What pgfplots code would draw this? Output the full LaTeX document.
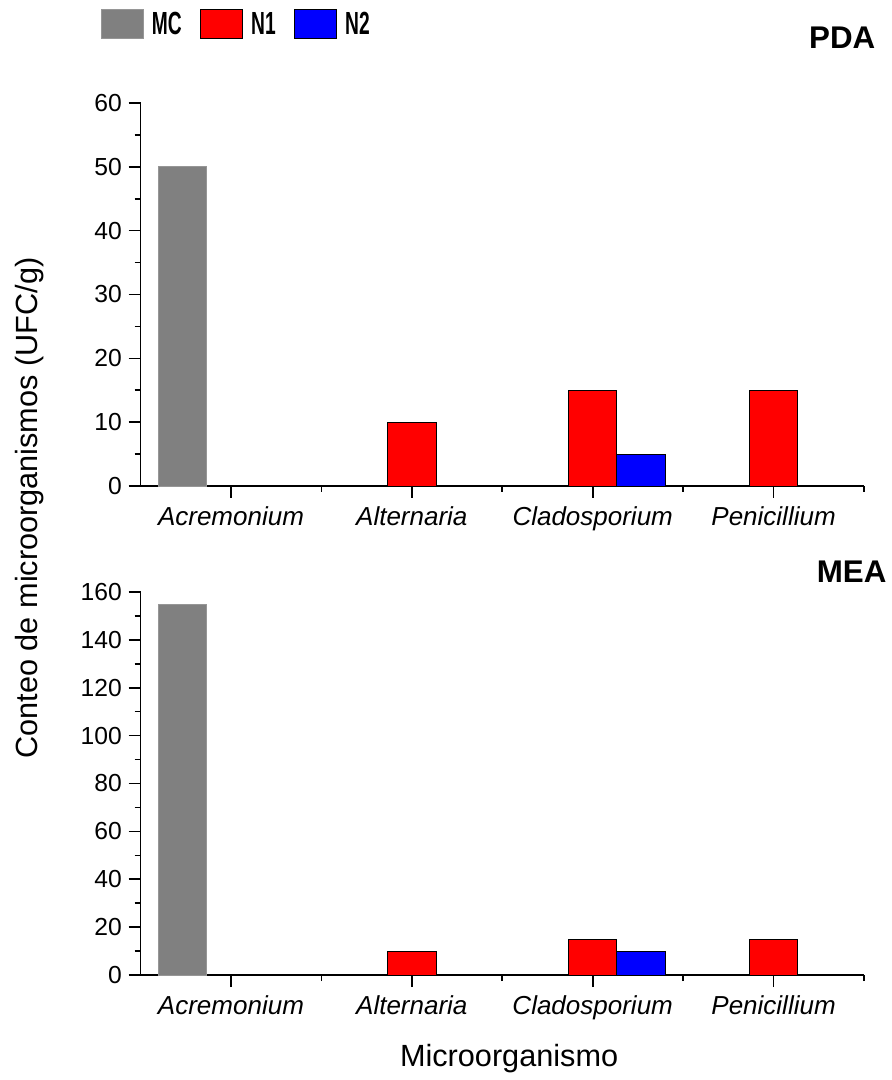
\documentclass[border=0pt]{standalone}
\usepackage{fontspec}
\setmainfont{Liberation Sans}
\usepackage{pgfplots}
\pgfplotsset{compat=1.18}
\definecolor{mcgray}{RGB}{128,128,128}
\definecolor{mcedge}{RGB}{150,150,150}
\newcommand{\lgtext}[1]{\scalebox{0.6}[1]{\bfseries\fontsize{24}{28}\selectfont #1}}
\begin{document}
\begin{tikzpicture}
\pgfplotsset{
  myaxis/.style={
    scale only axis, width=542.6pt, height=287.25pt,
    xmin=-0.5, xmax=3.5, ymin=0,
    axis x line*=bottom, axis y line*=left,
    xtick={0,1,2,3},
    xticklabels={Acremonium,Alternaria,Cladosporium,Penicillium},
    minor xtick={0.5,1.5,2.5,3.5},
    tick align=outside, xtick pos=left, ytick pos=left,
    major tick length=9pt, minor tick length=4.5pt,
    ybar, bar width=0.267,
    clip=false,
    axis line style={line width=1.2pt},
    every tick/.style={black, line width=1.2pt},
    tick label style={font=\fontsize{18.5}{21}\selectfont},
    yticklabel style={xshift=-1.5pt},
    xticklabel style={font=\fontsize{19.5}{23}\selectfont\itshape, yshift=-3pt},
    /pgf/number format/assume math mode=true,
    minor y tick num=1,
  },
  mcstyle/.style={fill=mcgray, draw=mcedge, line width=0.6pt, bar shift=-0.267},
  n1style/.style={fill=red, draw=black, line width=0.6pt, bar shift=0},
  n2style/.style={fill=blue, draw=black, line width=0.6pt, bar shift=0.267},
}
% ---------- top panel: PDA ----------
\begin{axis}[myaxis, name=top,
  ymax=60, ytick={0,10,...,60},
  legend columns=3,
  legend image code/.code={\draw[#1] (0pt,-10.9pt) rectangle (31.5pt,10.9pt);},
  legend style={at={(rel axis cs:0.133,1.206)}, anchor=center, draw=none,
    /tikz/every odd column/.append style={column sep=4pt},
    /tikz/every even column/.append style={column sep=12pt}},
]
\addplot[mcstyle] coordinates {(0,50)};
\addplot[n1style] coordinates {(1,10) (2,15) (3,15)};
\addplot[n2style] coordinates {(2,5)};
\legend{\lgtext{MC},\lgtext{N1},\lgtext{N2}}
\node[font=\bfseries\fontsize{23.5}{28}\selectfont] at (rel axis cs:0.970,1.170) {PDA};
\end{axis}
% ---------- bottom panel: MEA ----------
\begin{axis}[myaxis, name=bottom, at={(0pt,-366.75pt)},
  ymax=160, ytick={0,20,...,160},
]
\addplot[mcstyle] coordinates {(0,155)};
\addplot[n1style] coordinates {(1,10) (2,15) (3,15)};
\addplot[n2style] coordinates {(2,10)};
\node[font=\bfseries\fontsize{23.5}{28}\selectfont] at (rel axis cs:0.983,1.052) {MEA};
\end{axis}
\node[rotate=90, font=\fontsize{23}{27}\selectfont] at (-82.9pt,-16.5pt) {Conteo de microorganismos (UFC/g)};
\node[anchor=base, font=\fontsize{23}{27}\selectfont] at (276.4pt,-435pt) {Microorganismo};
\path[use as bounding box] (-105.4pt,-445.5pt) rectangle (562.9pt,364.5pt);
\end{tikzpicture}
\end{document}
